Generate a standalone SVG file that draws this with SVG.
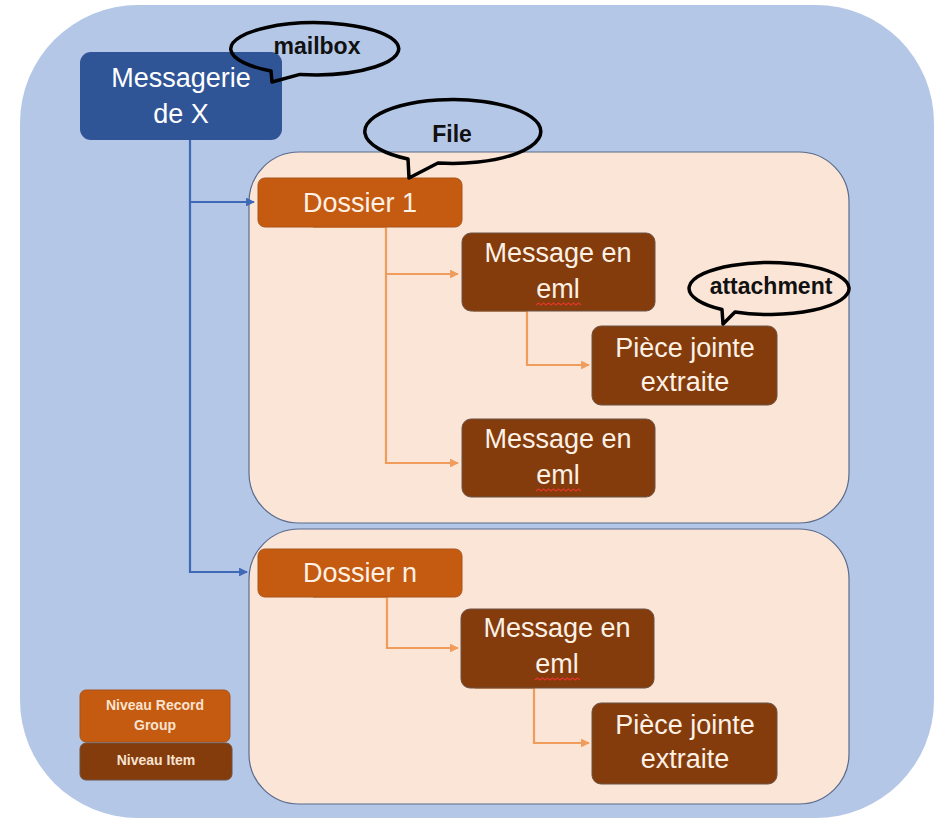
<svg xmlns="http://www.w3.org/2000/svg" width="941" height="821" viewBox="0 0 941 821">
<defs>
<style>
.t{font-family:"Liberation Sans",Arial,sans-serif;font-size:27px;text-anchor:middle}
.lt{fill:#fdf1e6}
.wt{fill:#ffffff}
.bub{fill:none;stroke:#000;stroke-width:3.5;stroke-linejoin:round}
.bt{font-family:"Liberation Sans",Arial,sans-serif;font-weight:bold;font-size:23px;text-anchor:middle;fill:#111}
.lg{font-family:"Liberation Sans",Arial,sans-serif;font-weight:bold;font-size:14px;text-anchor:middle;fill:#f9e3cf}
.rg{fill:#c55a11;stroke:#a9541c;stroke-width:1}
.it{fill:#843c0c;stroke:#6b5346;stroke-width:1}
.cont{fill:#fbe5d6;stroke:#5b6b8c;stroke-width:1.2}
.cb{fill:none;stroke:#3f68b5;stroke-width:2.2}
.co{fill:none;stroke:#f09c5c;stroke-width:2.2}
.sq{fill:none;stroke:#e0362c;stroke-width:1.1}
</style>
<marker id="ab" viewBox="0 0 10 10" refX="9" refY="5" markerWidth="4" markerHeight="4" orient="auto" markerUnits="strokeWidth"><path d="M0,0 L10,5 L0,10 Z" fill="#3f68b5"/></marker>
<marker id="ao" viewBox="0 0 10 10" refX="9" refY="5" markerWidth="4" markerHeight="4" orient="auto" markerUnits="strokeWidth"><path d="M0,0 L10,5 L0,10 Z" fill="#f09c5c"/></marker>
</defs>
<rect width="941" height="821" fill="#ffffff"/>
<rect id="outer" x="20" y="5" width="914" height="813" rx="118" fill="#b4c7e7"/>
<g id="container1"><rect class="cont" x="249" y="152" width="600" height="371" rx="50"/></g>
<g id="container2"><rect class="cont" x="249" y="529" width="600" height="275" rx="50"/></g>
<g id="connectors">
<path class="cb" d="M190,140 V572 H247" marker-end="url(#ab)"/>
<path class="cb" d="M190,202 H254" marker-end="url(#ab)"/>
<path class="co" d="M313,227 H386 V463 H458" marker-end="url(#ao)"/>
<path class="co" d="M386,274 H458" marker-end="url(#ao)"/>
<path class="co" d="M473,311 H527 V365 H589" marker-end="url(#ao)"/>
<path class="co" d="M313,597 H387 V648 H458" marker-end="url(#ao)"/>
<path class="co" d="M475,688 H534 V743 H589" marker-end="url(#ao)"/>
</g>
<g id="messagerie">
<rect x="80" y="52" width="202" height="88" rx="11" fill="#2f5597"/>
<text class="t wt" x="181" y="87">Messagerie</text>
<text class="t wt" x="181" y="123">de X</text>
</g>
<g id="dossier1">
<rect class="rg" x="258" y="178" width="204" height="49" rx="7"/>
<text class="t lt" x="360" y="212">Dossier 1</text>
</g>
<g id="message1">
<rect class="it" x="462" y="233" width="193" height="78" rx="9"/>
<text class="t lt" x="558" y="262">Message en</text>
<text class="t lt" x="558" y="298">eml</text>
<path class="sq" d="M536,305 l2.5,-2 l2.5,2 l2.5,-2 l2.5,2 l2.5,-2 l2.5,2 l2.5,-2 l2.5,2 l2.5,-2 l2.5,2 l2.5,-2 l2.5,2 l2.5,-2 l2.5,2 l2.5,-2 l2.5,2 l2.5,-2 l2.5,2"/>
</g>
<g id="piece1">
<rect class="it" x="592" y="326" width="185" height="79" rx="9"/>
<text class="t lt" x="685" y="357">Pièce jointe</text>
<text class="t lt" x="685" y="391">extraite</text>
</g>
<g id="message2">
<rect class="it" x="462" y="419" width="193" height="78" rx="9"/>
<text class="t lt" x="558" y="448">Message en</text>
<text class="t lt" x="558" y="484">eml</text>
<path class="sq" d="M536,491 l2.5,-2 l2.5,2 l2.5,-2 l2.5,2 l2.5,-2 l2.5,2 l2.5,-2 l2.5,2 l2.5,-2 l2.5,2 l2.5,-2 l2.5,2 l2.5,-2 l2.5,2 l2.5,-2 l2.5,2 l2.5,-2 l2.5,2"/>
</g>
<g id="dossiern">
<rect class="rg" x="258" y="549" width="204" height="48" rx="7"/>
<text class="t lt" x="360" y="582">Dossier n</text>
</g>
<g id="message3">
<rect class="it" x="461" y="609" width="193" height="79" rx="9"/>
<text class="t lt" x="557" y="637">Message en</text>
<text class="t lt" x="557" y="673">eml</text>
<path class="sq" d="M535,680 l2.5,-2 l2.5,2 l2.5,-2 l2.5,2 l2.5,-2 l2.5,2 l2.5,-2 l2.5,2 l2.5,-2 l2.5,2 l2.5,-2 l2.5,2 l2.5,-2 l2.5,2 l2.5,-2 l2.5,2 l2.5,-2 l2.5,2"/>
</g>
<g id="piece2">
<rect class="it" x="592" y="703" width="185" height="81" rx="9"/>
<text class="t lt" x="685" y="734">Pièce jointe</text>
<text class="t lt" x="685" y="768">extraite</text>
</g>
<g id="legend-record">
<rect class="rg" x="80" y="690" width="150" height="52" rx="6"/>
<text class="lg" x="155" y="710">Niveau Record</text>
<text class="lg" x="155" y="730">Group</text>
</g>
<g id="legend-item">
<rect class="it" x="80" y="743" width="152" height="37" rx="6"/>
<text class="lg" x="156" y="765">Niveau Item</text>
</g>
<g id="bubble-mailbox">
<path class="bub" d="M271,71 A84,26 0 1 1 300,74.4 L272,82 Z"/>
<text class="bt" x="317" y="54">mailbox</text>
</g>
<g id="bubble-file">
<path class="bub" d="M408,159 A88,32 0 1 1 438,163 L409,178 Z"/>
<text class="bt" x="452" y="142">File</text>
</g>
<g id="bubble-attachment">
<path class="bub" d="M722,309.5 A80,26 0 1 1 735,312 L723,324 Z"/>
<text class="bt" x="771" y="294">attachment</text>
</g>
</svg>
